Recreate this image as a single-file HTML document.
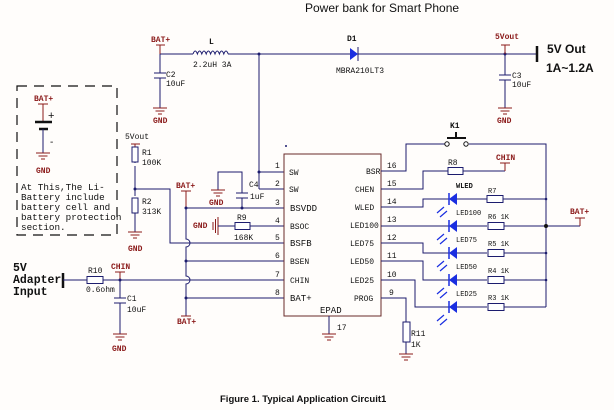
<!DOCTYPE html>
<html><head><meta charset="utf-8"><style>
html,body{margin:0;padding:0;background:#fff}
svg{display:block}
.w{stroke:#1c1c6e;stroke-width:1;fill:none}
.r{fill:#8b1a1a;font-family:"Liberation Mono",monospace;font-size:8px;font-weight:bold}
.t{fill:#111;font-family:"Liberation Mono",monospace;font-size:8px;font-weight:bold}
.p{fill:#111;font-family:"Liberation Mono",monospace;font-size:8px}
.g{stroke:#8b1a1a;stroke-width:1;fill:none}
.res{fill:#fff;stroke:#1c1c6e;stroke-width:1}
.led{fill:#1a2ee0}
</style></head><body>
<svg width="614" height="410" viewBox="0 0 614 410" xmlns="http://www.w3.org/2000/svg">
<rect width="614" height="410" fill="#fffdfb"/>
<text x="305" y="12" font-family="Liberation Sans,sans-serif" font-size="12" fill="#111">Power bank for Smart Phone</text>

<path class="w" d="M160 54H193M228 54H350M358 54H537"/>
<path class="w" d="M193 54 q2.2 -6 4.4 0 q2.2 -6 4.4 0 q2.2 -6 4.4 0 q2.2 -6 4.4 0 q2.2 -6 4.4 0 q2.2 -6 4.4 0 q2.2 -6 4.4 0 q2.2 -6 4.4 0"/>
<text class="t" x="209" y="44">L</text>
<text class="p" x="193" y="67">2.2uH 3A</text>
<polygon class="led" points="350,48 350,60 358,54"/>
<path class="w" d="M358 47V61" stroke-width="1.5"/>
<text class="t" x="347" y="41">D1</text>
<text class="p" x="336" y="73">MBRA210LT3</text>
<circle cx="259" cy="54" r="1.5" fill="#1c1c6e"/>
<circle cx="505" cy="54" r="1.5" fill="#1c1c6e"/>
<path d="M537 46V62" stroke="#111" stroke-width="2.5"/>
<text x="547" y="53" font-family="Liberation Sans,sans-serif" font-size="12" font-weight="bold" fill="#111">5V Out</text>
<text x="546" y="72" font-family="Liberation Sans,sans-serif" font-size="12" font-weight="bold" fill="#111">1A~1.2A</text>

<text class="r" x="151" y="42">BAT+</text>
<path class="g" d="M156 45H165M160 45V54"/>
<path class="w" d="M160 54V73M160 78V108"/>
<path class="w" d="M154 73H166M154 78H166" stroke-width="1.5"/>
<text class="p" x="166" y="77" font-size="7">C2</text>
<text class="p" x="166" y="86" font-size="7">10uF</text>
<path class="g" d="M153 108H167M155.5 111H164.5M158 114H162"/>
<text class="r" x="153" y="123">GND</text>

<text class="r" x="495" y="39">5Vout</text>
<path class="g" d="M501 45H510M505 45V54"/>
<path class="w" d="M505 54V75M505 80V108"/>
<path class="w" d="M499 75H511M499 80H511" stroke-width="1.5"/>
<text class="p" x="512" y="78" font-size="7">C3</text>
<text class="p" x="512" y="87" font-size="7">10uF</text>
<path class="g" d="M498 108H512M500.5 111H509.5M503 114H507"/>
<text class="r" x="497" y="123">GND</text>

<rect x="17" y="86" width="100" height="149" fill="none" stroke="#111" stroke-width="1.2" stroke-dasharray="10,7"/>
<text class="r" x="34" y="101">BAT+</text>
<path class="g" d="M38 104H48M43 104V122"/>
<path d="M35 122H52" stroke="#111" stroke-width="2.5"/>
<path d="M39 129H48" stroke="#111" stroke-width="2.5"/>
<path class="w" d="M43 129V153" stroke="#333"/>
<text x="48" y="119" font-family="Liberation Sans,sans-serif" font-size="11" fill="#111">+</text>
<text x="50" y="145" font-family="Liberation Sans,sans-serif" font-size="10" fill="#111">-</text>
<path class="g" d="M36 153H50M38.5 156H47.5M41 159H45"/>
<text class="r" x="36" y="173">GND</text>
<g font-family="Liberation Mono,monospace" font-size="9.3" fill="#111">
<text x="21" y="190">At This,The Li-</text>
<text x="21" y="200">Battery include</text>
<text x="21" y="210">battery cell and</text>
<text x="21" y="220">battery protection</text>
<text x="21" y="230">section.</text>
</g>

<text class="p" x="125" y="139">5Vout</text>
<path class="g" d="M131 144H140M135 144V147"/>
<path class="w" d="M135 147V163M135 166V189V196M135 202V232"/>
<rect class="res" x="132" y="147" width="6" height="15"/>
<rect class="res" x="132" y="198" width="6" height="15"/>
<text class="p" x="142" y="155" font-size="7">R1</text>
<text class="p" x="142" y="165" font-size="7">100K</text>
<text class="p" x="142" y="204" font-size="7">R2</text>
<text class="p" x="142" y="214" font-size="7">313K</text>
<circle cx="135" cy="189" r="1.5" fill="#1c1c6e"/>
<path class="w" d="M135 189H170V243H284"/>
<path class="g" d="M128 232H142M130.5 235H139.5M133 238H137"/>
<text class="r" x="128" y="251">GND</text>

<text class="r" x="176" y="188">BAT+</text>
<path class="g" d="M181 191H191M186 191V208"/>
<path class="w" d="M186 208V239 a4 4 0 0 1 0 8 V276 a4 4 0 0 1 0 8 V316"/>
<path class="w" d="M186 208H284M186 261H284M186 298H284"/>
<circle cx="186" cy="208" r="1.5" fill="#1c1c6e"/>
<circle cx="186" cy="261" r="1.5" fill="#1c1c6e"/>
<circle cx="186" cy="298" r="1.5" fill="#1c1c6e"/>
<path class="g" d="M181 316H191"/>
<text class="r" x="177" y="324">BAT+</text>

<path class="w" d="M218 190V172H242V193M242 198V208"/>
<path class="w" d="M236 193H248M236 198H248" stroke-width="1.5"/>
<circle cx="242" cy="208" r="1.5" fill="#1c1c6e"/>
<path class="g" d="M211 190H225M213.5 193H222.5M216 196H220"/>
<text class="r" x="209" y="205">GND</text>
<text class="p" x="249" y="187" font-size="7">C4</text>
<text class="p" x="250" y="199" font-size="7">1uF</text>

<text class="r" x="193" y="228">GND</text>
<path class="g" d="M213 222V230M215.5 219V233M218 217V235"/>
<path class="w" d="M218 226H235M250 226H284"/>
<rect class="res" x="235" y="222.5" width="15" height="7"/>
<text class="p" x="237" y="220" font-size="7">R9</text>
<text class="p" x="234" y="240" font-size="7">168K</text>

<path class="w" d="M259 54V189M259 172H284M259 189H284"/>
<circle cx="259" cy="172" r="1.5" fill="#1c1c6e"/>

<g font-family="Liberation Mono,monospace" font-size="11.5" font-weight="bold" fill="#111">
<text x="13" y="271">5V</text>
<text x="13" y="283">Adapter</text>
<text x="13" y="295">Input</text>
</g>
<path d="M63 273V288" stroke="#111" stroke-width="2.5"/>
<path class="w" d="M63 280H87M103 280H284"/>
<rect class="res" x="87" y="276.5" width="16" height="7"/>
<text class="p" x="88" y="273" font-size="7">R10</text>
<text class="p" x="86" y="292" font-size="6.5">0.6ohm</text>
<text class="r" x="111" y="269">CHIN</text>
<path class="g" d="M115 272H125M120 272V280"/>
<circle cx="120" cy="280" r="1.5" fill="#1c1c6e"/>
<path class="w" d="M120 280V298M120 303V334"/>
<path class="w" d="M114 298H126M114 303H126" stroke-width="1.5"/>
<text class="p" x="127" y="301" font-size="7">C1</text>
<text class="p" x="127" y="312" font-size="7">10uF</text>
<path class="g" d="M113 334H127M115.5 337H124.5M118 340H122"/>
<text class="r" x="112" y="351">GND</text>

<rect x="284" y="154" width="97" height="162" fill="#fffdfb" stroke="#6a2a2a" stroke-width="1"/>
<circle cx="286" cy="146" r="1" fill="#1c1c6e"/>
<g font-family="Liberation Mono,monospace" font-size="8" fill="#111">
<text x="275" y="168">1</text><text x="275" y="186">2</text><text x="275" y="205">3</text><text x="275" y="223">4</text>
<text x="275" y="240">5</text><text x="275" y="258">6</text><text x="275" y="277">7</text><text x="275" y="295">8</text>
<text x="289" y="175">SW</text><text x="289" y="192">SW</text><text x="290" y="211" font-size="9">BSVDD</text>
<text x="290" y="229">BSOC</text><text x="290" y="246" font-size="9">BSFB</text><text x="290" y="264">BSEN</text>
<text x="290" y="283">CHIN</text><text x="290" y="301" font-size="9">BAT+</text>
<text x="366" y="174">BSR</text><text x="355" y="192">CHEN</text><text x="355" y="210">WLED</text>
<text x="350" y="228">LED100</text><text x="350" y="246">LED75</text><text x="350" y="264">LED50</text>
<text x="350" y="283">LED25</text><text x="354" y="301">PROG</text>
<text x="387" y="168">16</text><text x="387" y="186">15</text><text x="387" y="204">14</text><text x="387" y="222">13</text>
<text x="387" y="240">12</text><text x="387" y="258">11</text><text x="387" y="277">10</text><text x="389" y="295">9</text>
<text x="320" y="313" font-size="9">EPAD</text><text x="337" y="330">17</text>
</g>
<path class="w" d="M329 316V334"/>
<path class="g" d="M322 334H336M324.5 337H333.5M327 340H331"/>

<path class="w" d="M381 171H406V144H445M469 144H546V307"/>
<circle cx="447" cy="144" r="2.2" fill="#fff" stroke="#111"/>
<circle cx="466" cy="144" r="2.2" fill="#fff" stroke="#111"/>
<path d="M447 138H466M456 132V138" stroke="#111" stroke-width="2"/>
<text class="t" x="450" y="128">K1</text>
<path class="w" d="M381 189H423V171H448M463 171H505"/>
<rect class="res" x="448" y="167.5" width="15" height="7"/>
<text class="p" x="448" y="165" font-size="7">R8</text>
<text class="r" x="496" y="160">CHIN</text>
<path class="g" d="M500 163H510M505 163V171"/>

<path class="w" d="M381 207H423V199H487M503 199H546"/>
<path class="w" d="M381 226H487M503 226H580"/>
<path class="w" d="M381 243H423V253H487M503 253H546"/>
<path class="w" d="M381 261H423V280H487M503 280H546"/>
<path class="w" d="M381 280H415V307H487M503 307H546"/>
<path class="w" d="M381 298H406V322M406 342V354"/>
<rect class="res" x="403" y="322" width="7" height="20"/>
<text class="p" x="411" y="336" font-size="7">R11</text>
<text class="p" x="411" y="347" font-size="7">1K</text>
<path class="g" d="M399 354H413M401.5 357H410.5M404 360H408"/>

<g>
<rect class="res" x="487" y="195.5" width="16" height="7"/>
<rect class="res" x="488" y="222.5" width="16" height="7"/>
<rect class="res" x="488" y="249.5" width="16" height="7"/>
<rect class="res" x="488" y="276.5" width="16" height="7"/>
<rect class="res" x="488" y="303.5" width="16" height="7"/>
</g>
<g font-family="Liberation Mono,monospace" font-size="7" fill="#111">
<text x="488" y="193">R7</text><text x="488" y="219">R6 1K</text><text x="488" y="246">R5 1K</text>
<text x="488" y="273">R4 1K</text><text x="488" y="300">R3 1K</text>
<text x="456" y="188" font-weight="bold">WLED</text><text x="456" y="215">LED100</text><text x="456" y="242">LED75</text>
<text x="456" y="269">LED50</text><text x="456" y="296">LED25</text>
</g>
<g>
<polygon class="led" points="449,199 457,193 457,205"/><path d="M449 193V205" stroke="#1a2ee0" stroke-width="1.5"/>
<polygon class="led" points="449,226 457,220 457,232"/><path d="M449 220V232" stroke="#1a2ee0" stroke-width="1.5"/>
<polygon class="led" points="449,253 457,247 457,259"/><path d="M449 247V259" stroke="#1a2ee0" stroke-width="1.5"/>
<polygon class="led" points="449,280 457,274 457,286"/><path d="M449 274V286" stroke="#1a2ee0" stroke-width="1.5"/>
<polygon class="led" points="449,307 457,301 457,313"/><path d="M449 301V313" stroke="#1a2ee0" stroke-width="1.5"/>
</g>
<g stroke="#1a2ee0" stroke-width="1.2">
<path d="M444 207L437 213M447 211L440 217"/>
<path d="M444 234L437 240M447 238L440 244"/>
<path d="M444 261L437 267M447 265L440 271"/>
<path d="M444 288L437 294M447 292L440 298"/>
<path d="M444 315L437 321M447 319L440 325"/>
</g>
<circle cx="546" cy="199" r="1.3" fill="#1c1c6e"/>
<circle cx="546" cy="226" r="2" fill="#111"/>
<circle cx="546" cy="253" r="1.3" fill="#1c1c6e"/>
<circle cx="546" cy="280" r="1.3" fill="#1c1c6e"/>
<text class="r" x="570" y="214">BAT+</text>
<path class="g" d="M575 218H585M580 218V226"/>

<text x="220" y="402" font-family="Liberation Sans,sans-serif" font-size="9.5" font-weight="bold" fill="#111">Figure 1.  Typical Application Circuit1</text>
</svg>
</body></html>
